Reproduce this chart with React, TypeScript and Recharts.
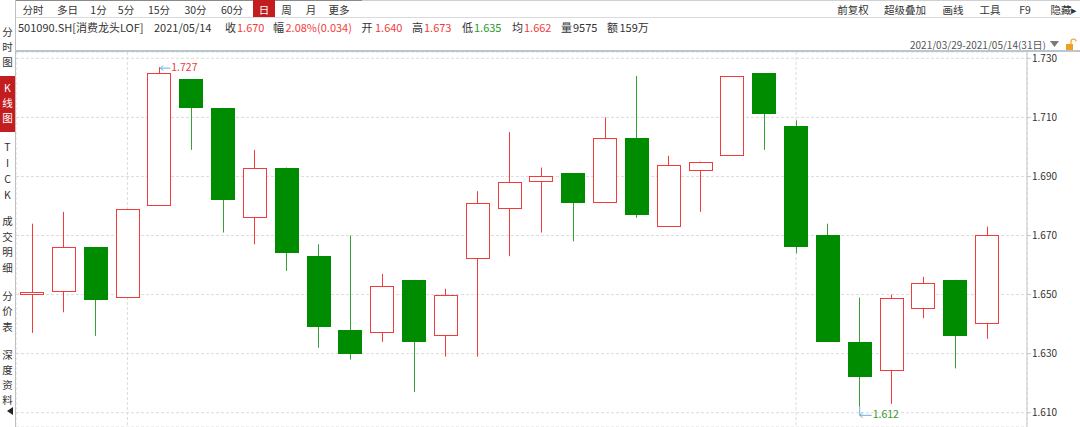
import React from 'react';
import { ComposedChart, Bar, XAxis, YAxis, CartesianGrid, ReferenceDot } from 'recharts';

const dates = [
  '2021/03/29', '2021/03/30', '2021/03/31', '2021/04/01', '2021/04/02', '2021/04/06', '2021/04/07', '2021/04/08',
  '2021/04/09', '2021/04/12', '2021/04/13', '2021/04/14', '2021/04/15', '2021/04/16', '2021/04/19', '2021/04/20',
  '2021/04/21', '2021/04/22', '2021/04/23', '2021/04/26', '2021/04/27', '2021/04/28', '2021/04/29', '2021/04/30',
  '2021/05/06', '2021/05/07', '2021/05/10', '2021/05/11', '2021/05/12', '2021/05/13', '2021/05/14',
];
const opens = [1.650, 1.651, 1.666, 1.649, 1.680, 1.723, 1.713, 1.676, 1.693, 1.663, 1.638, 1.637, 1.655, 1.636, 1.662, 1.679,
  1.688, 1.691, 1.681, 1.703, 1.673, 1.692, 1.697, 1.725, 1.707, 1.670, 1.634, 1.624, 1.645, 1.655, 1.640];
const closes = [1.651, 1.666, 1.648, 1.679, 1.725, 1.713, 1.682, 1.693, 1.664, 1.639, 1.630, 1.653, 1.634, 1.650, 1.681, 1.688,
  1.690, 1.681, 1.703, 1.677, 1.694, 1.695, 1.724, 1.711, 1.666, 1.634, 1.622, 1.649, 1.654, 1.636, 1.670];
const highs = [1.674, 1.678, 1.666, 1.679, 1.727, 1.723, 1.713, 1.699, 1.693, 1.667, 1.670, 1.657, 1.655, 1.652, 1.685, 1.705,
  1.693, 1.691, 1.710, 1.724, 1.697, 1.695, 1.724, 1.725, 1.709, 1.674, 1.649, 1.650, 1.656, 1.655, 1.673];
const lows = [1.637, 1.644, 1.636, 1.649, 1.680, 1.699, 1.671, 1.667, 1.658, 1.632, 1.628, 1.634, 1.617, 1.629, 1.629, 1.663,
  1.671, 1.668, 1.681, 1.676, 1.673, 1.678, 1.697, 1.699, 1.664, 1.634, 1.612, 1.613, 1.642, 1.625, 1.635];

const yTicks = [1.61, 1.63, 1.65, 1.67, 1.69, 1.71, 1.73];
// first trading day of each month: dashed separators
const monthStarts = ['2021/04/01', '2021/05/06'];

const toolTabs = ['分时', '多日', '1分', '5分', '15分', '30分', '60分', '日', '周', '月', '更多'];
const toolTabX = [33, 67.5, 98.5, 126, 159, 195.5, 232, 264, 286.5, 311, 339];
const toolRight = ['前复权', '超级叠加', '画线', '工具', 'F9', '隐藏▸'];
const toolRightX = [853, 905, 953, 990, 1025, 1064];

const sideGroups = [
  { chars: ['分', '时', '图'], ys: [32, 47, 62] },
  { chars: ['K', '线', '图'], ys: [88, 103, 118] },
  { chars: ['T', 'I', 'C', 'K'], ys: [147, 163, 179, 195] },
  { chars: ['成', '交', '明', '细'], ys: [221, 237, 252, 268] },
  { chars: ['分', '价', '表'], ys: [296, 311, 327] },
  { chars: ['深', '度', '资', '料'], ys: [355, 370, 385, 400] },
];

const RED = '#f23c3c';
const GREEN = '#008c00';
const GREEN_WICK = '#35a035';
const UI_RED = '#c41d1f';
const FONT = '"Noto Sans CJK SC", "Noto Sans", sans-serif';

const data = dates.map((date, i) => ({
  date,
  open: opens[i],
  close: closes[i],
  high: highs[i],
  low: lows[i],
}));

const Candle = (props: any) => {
  const { x, y, width, height, payload } = props;
  const { open, close, high, low } = payload;
  const top = Math.min(y, y + height);
  const span = Math.abs(height);
  const py = (v: number) => top + ((high - v) / (high - low)) * span;
  const cx = Math.floor(x + width / 2) + 0.5;
  const bTop = Math.round(py(Math.max(open, close)));
  const bBot = Math.round(py(Math.min(open, close)));
  const left = Math.round(x);
  const w = Math.round(width);
  if (close >= open) {
    return (
      <g>
        <line x1={cx} x2={cx} y1={py(high)} y2={bTop} stroke={RED} />
        <line x1={cx} x2={cx} y1={bBot} y2={py(low)} stroke={RED} />
        <rect x={left + 0.5} y={bTop + 0.5} width={w - 1} height={Math.max(bBot - bTop - 1, 1)} fill="#fff" stroke={RED} />
      </g>
    );
  }
  return (
    <g>
      <line x1={cx} x2={cx} y1={py(high)} y2={py(low)} stroke={GREEN_WICK} />
      <rect x={left} y={bTop} width={w} height={Math.max(bBot - bTop, 1)} fill={GREEN} />
    </g>
  );
};

const HighMark = (props: any) => {
  const { cx, cy } = props;
  return (
    <g>
      <path d={`M${cx + 1} ${cy + 1} L${cx + 11} ${cy + 1} M${cx + 1} ${cy + 1} L${cx + 4} ${cy - 1.5} M${cx + 1} ${cy + 1} L${cx + 4} ${cy + 3.5}`} stroke="#6fb0d8" fill="none" />
      <text x={cx + 12} y={cy + 4} fontSize={10.5} fill="#e84040" fontFamily={FONT}>1.727</text>
    </g>
  );
};

const LowMark = (props: any) => {
  const { cx, cy } = props;
  const ay = cy + 8.5;
  return (
    <g>
      <path d={`M${cx} ${cy} L${cx} ${ay} M${cx} ${ay} L${cx + 12} ${ay} M${cx} ${ay} L${cx + 3} ${ay - 2.5} M${cx} ${ay} L${cx + 3} ${ay + 2.5}`} stroke="#6fb0d8" fill="none" />
      <text x={cx + 13} y={ay + 3} fontSize={10.5} fill="#3a9a2a" fontFamily={FONT}>1.612</text>
    </g>
  );
};

const T = ({ x, y, children, color = '#333', center = false, size = 10.5 }: any) => (
  <div
    style={{
      position: 'absolute',
      left: x,
      top: y - 7,
      height: 14,
      lineHeight: '14px',
      fontSize: size,
      color,
      whiteSpace: 'nowrap',
      transform: center ? 'translateX(-50%)' : undefined,
    }}
  >
    {children}
  </div>
);

export default function App() {
  return (
    <div style={{ position: 'relative', width: 1080, height: 427, background: '#fff', overflow: 'hidden', fontFamily: FONT }}>
      <style>{'body{margin:0}'}</style>

      <ComposedChart
        width={1080}
        height={427}
        data={data}
        margin={{ top: 52, right: 0, bottom: 0, left: 16 }}
        style={{ position: 'absolute', left: 0, top: 0 }}
      >
        <CartesianGrid stroke="#dcdcdc" strokeDasharray="3 2" />
        <XAxis dataKey="date" hide ticks={monthStarts} padding={{ left: 0, right: 24 }} />
        <YAxis
          orientation="right"
          width={53}
          domain={[1.60516, 1.73213]}
          allowDataOverflow
          ticks={yTicks}
          tickFormatter={(v: number) => v.toFixed(3)}
          tick={{ fill: '#333', fontSize: 10, fontFamily: FONT }}
          tickSize={4}
          tickMargin={1}
          axisLine={{ stroke: '#c8c8c8' }}
          tickLine={{ stroke: '#c8c8c8' }}
        />
        <Bar dataKey={(d: any) => [d.low, d.high]} barSize={24} shape={Candle} isAnimationActive={false} />
        <ReferenceDot x={dates[4]} y={highs[4]} r={0} shape={HighMark} />
        <ReferenceDot x={dates[26]} y={lows[26]} r={0} shape={LowMark} />
      </ComposedChart>

      {/* toolbar */}
      <div style={{ position: 'absolute', left: 15, top: 0, width: 347, height: 1, background: '#8a8a8a' }} />
      <div style={{ position: 'absolute', left: 362, top: 0, width: 718, height: 1, background: '#d0d0d0' }} />
      <div style={{ position: 'absolute', left: 15, top: 17, width: 1065, height: 1, background: '#dadada' }} />
      <div style={{ position: 'absolute', left: 253, top: 0, width: 22, height: 17, background: UI_RED }} />
      {toolTabs.map((t, i) => (
        <T key={t} x={toolTabX[i]} y={10} center color={t === '日' ? '#fff' : '#333'}>{t}</T>
      ))}
      {toolRight.map((t, i) => (
        <T key={t} x={toolRightX[i]} y={10} center>{t}</T>
      ))}

      {/* info line */}
      <T x={18} y={27} size={11}>501090.SH[消费龙头LOF]</T>
      <T x={154} y={27} size={11}>2021/05/14</T>
      <T x={225} y={27} size={11}>收</T>
      <T x={237} y={27} size={11} color={RED}>1.670</T>
      <T x={273} y={27} size={11}>幅</T>
      <T x={285.5} y={27} size={11} color={RED}>2.08%(0.034)</T>
      <T x={361.5} y={27} size={11}>开</T>
      <T x={375} y={27} size={11} color={RED}>1.640</T>
      <T x={412} y={27} size={11}>高</T>
      <T x={424} y={27} size={11} color={RED}>1.673</T>
      <T x={462} y={27} size={11}>低</T>
      <T x={474} y={27} size={11} color="#2a9a2a">1.635</T>
      <T x={512} y={27} size={11}>均</T>
      <T x={524} y={27} size={11} color={RED}>1.662</T>
      <T x={561} y={27} size={11}>量</T>
      <T x={573} y={27} size={11}>9575</T>
      <T x={607} y={27} size={11}>额</T>
      <T x={619.5} y={27} size={11}>159万</T>

      {/* date range */}
      <div style={{ position: 'absolute', left: 910, top: 38, height: 14, lineHeight: '14px', fontSize: 10, color: '#555', textDecoration: 'underline', whiteSpace: 'nowrap' }}>
        2021/03/29-2021/05/14(31日)
      </div>
      <svg style={{ position: 'absolute', left: 1048, top: 38 }} width={32} height={14}>
        <path d="M2 3 L11 3 L6.5 9 Z" fill="#7a7a7a" />
        <rect x={18} y={6} width={7} height={6} fill="#f0a020" />
        <path d="M23 6 L23 3.5 A2.5 2.5 0 0 1 28 3.5" stroke="#f0a020" fill="none" strokeWidth={1.2} />
      </svg>

      {/* chart top border */}
      <div style={{ position: 'absolute', left: 15, top: 50, width: 1065, height: 2, background: '#b9c5cf' }} />

      {/* sidebar */}
      <div style={{ position: 'absolute', left: 15, top: 0, width: 1, height: 427, background: '#c0c0c0' }} />
      <div style={{ position: 'absolute', left: 0, top: 76, width: 15, height: 56, background: UI_RED }} />
      {sideGroups.map((g, gi) =>
        g.chars.map((c, ci) => (
          <T key={`${gi}-${ci}`} x={7.5} y={g.ys[ci]} center color={gi === 1 ? '#fff' : '#333'}>{c}</T>
        ))
      )}
      <svg style={{ position: 'absolute', left: 6, top: 406 }} width={9} height={10}>
        <path d="M1 5 L7 1 L7 9 Z" fill="#222" />
      </svg>
    </div>
  );
}
